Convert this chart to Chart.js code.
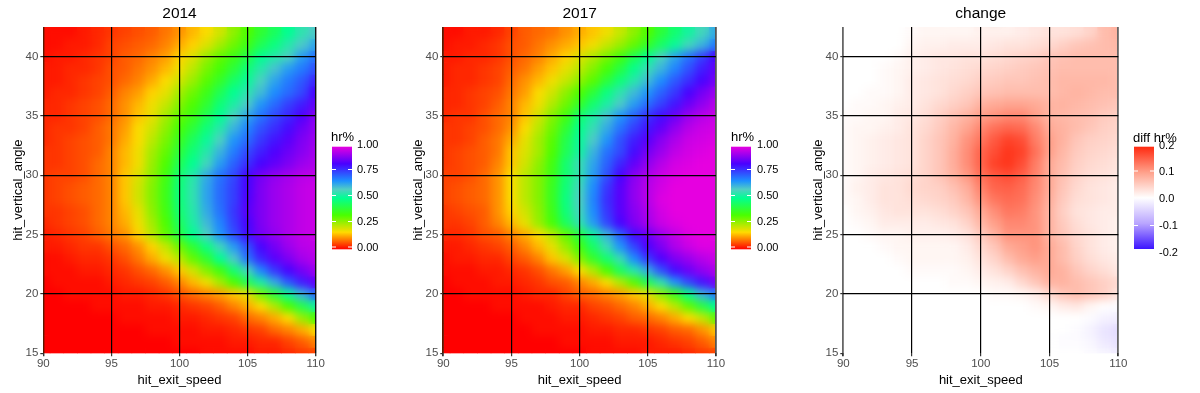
<!DOCTYPE html>
<html><head><meta charset="utf-8">
<script src="https://cdn.jsdelivr.net/npm/chart.js@4"></script>
<style>
html,body{margin:0;padding:0;background:#fff;width:1200px;height:393px;overflow:hidden}
.p{position:absolute;top:0;width:400px;height:393px}
</style></head><body>
<div class="p" style="left:0"><canvas id="c0"></canvas></div>
<div class="p" style="left:400px"><canvas id="c1"></canvas></div>
<div class="p" style="left:800px"><canvas id="c2"></canvas></div>
<script>
const speeds=[90,91,92,93,94,95,96,97,98,99,100,101,102,103,104,105,106,107,108,109,110];
const angles=[42,41,40,39,38,37,36,35,34,33,32,31,30,29,28,27,26,25,24,23,22,21,20,19,18,17,16,15];
const xTicks=[90,95,100,105,110];
const yTicks=[15,20,25,30,35,40];
const hrTicks=["1.00","0.75","0.50","0.25","0.00"];
const diffTicks=["0.2","0.1","0.0","-0.1","-0.2"];
// hr% x100, one row per angle (top row = 42)
const hr2014=[
[1,1,1,2,3,4,5,6,7,9,11,14,17,21,27,33,39,44,50,55,59],
[1,1,2,2,3,5,6,7,8,10,13,16,20,25,30,36,43,48,54,59,64],
[1,2,2,3,4,5,7,8,10,12,16,20,26,31,36,42,50,54,58,65,70],
[2,2,3,3,4,6,7,9,11,14,18,23,29,34,40,47,54,60,65,69,74],
[2,2,3,4,5,6,8,10,13,17,21,26,32,38,45,51,58,64,69,73,79],
[2,3,3,4,5,7,10,12,16,19,25,30,36,43,50,55,61,67,71,75,83],
[3,3,4,5,6,8,11,14,18,22,28,33,39,47,53,59,66,71,76,80,86],
[3,3,4,5,6,8,11,15,19,25,31,36,43,50,58,64,70,75,79,84,90],
[3,4,4,5,7,9,12,17,21,27,34,40,47,54,62,68,74,78,82,87,91],
[3,4,5,6,7,9,13,17,23,29,37,44,51,58,66,71,77,81,85,89,92],
[4,4,5,6,7,10,14,18,25,31,40,47,54,62,69,75,80,84,87,90,93],
[4,4,5,6,8,10,14,18,26,33,43,50,57,65,72,78,83,86,89,92,94],
[4,5,5,6,8,10,15,20,27,35,46,54,63,70,75,83,88,91,93,95,96],
[4,5,6,7,8,10,15,21,28,36,47,55,64,71,76,83,89,92,94,96,97],
[4,5,6,7,8,10,15,21,28,36,47,55,64,71,76,84,89,92,94,96,97],
[4,4,5,6,8,10,14,19,27,35,46,54,63,70,77,85,89,92,94,96,97],
[3,4,5,6,8,10,13,18,25,33,44,53,61,68,76,83,89,92,94,96,97],
[2,3,4,5,7,9,11,16,23,31,41,50,58,66,74,82,88,91,94,96,97],
[2,2,3,4,4,6,8,11,16,22,30,39,48,57,65,74,83,88,92,95,96],
[1,1,2,3,3,4,6,9,13,18,23,31,39,50,59,70,79,85,89,93,95],
[1,1,1,2,2,3,4,6,8,11,15,21,28,35,46,57,68,77,83,88,92],
[0,1,1,1,1,2,3,4,5,7,10,14,18,25,33,43,53,63,73,80,86],
[0,0,1,1,1,1,2,2,3,4,6,8,10,12,15,19,29,40,51,62,71],
[0,0,0,0,1,1,1,1,2,2,3,4,5,7,10,13,17,24,33,42,52],
[0,0,0,0,0,0,1,1,1,1,2,2,3,4,5,8,10,13,17,26,33],
[0,0,0,0,0,0,0,0,1,1,1,1,2,2,3,4,5,8,10,13,17],
[0,0,0,0,0,0,0,0,0,0,1,1,1,1,2,2,3,3,5,7,10],
[0,0,0,0,0,0,0,0,0,0,0,0,1,1,1,1,2,2,3,4,5]];
const hr2017=[
[1,1,2,2,3,5,7,8,9,11,13,15,18,22,27,33,40,46,52,57,63],
[1,2,2,3,4,6,7,9,11,13,15,18,22,26,31,38,45,51,57,62,69],
[2,2,3,3,4,6,8,10,13,16,20,24,29,35,43,50,58,64,70,76,83],
[2,3,3,4,5,7,9,12,15,19,23,28,34,41,49,56,62,68,74,80,86],
[2,3,3,4,5,8,11,14,18,22,27,32,40,47,54,61,67,73,78,83,88],
[3,3,4,5,6,9,12,17,21,27,33,40,48,55,61,66,72,77,83,88,92],
[3,3,4,5,7,10,14,18,24,30,38,46,53,59,65,71,76,81,87,91,95],
[3,4,4,6,8,10,15,21,28,35,46,53,60,66,72,78,82,87,92,95,97],
[4,4,5,6,8,11,17,23,30,39,49,56,63,70,76,81,86,91,95,97,98],
[4,4,5,7,9,13,19,25,32,42,51,59,66,74,80,85,90,94,97,98,99],
[4,5,6,7,9,15,20,25,33,43,52,62,70,75,82,88,92,96,98,99,100],
[4,5,6,7,10,15,21,27,35,46,56,64,72,79,86,91,95,98,99,100,100],
[5,5,6,8,11,17,23,28,36,46,55,65,74,83,90,94,97,99,100,100,100],
[5,6,7,8,11,17,23,28,37,47,57,67,77,85,91,95,98,100,100,100,100],
[5,6,7,8,11,17,23,28,37,48,58,68,78,85,91,95,99,100,100,100,100],
[4,5,6,7,11,16,21,27,36,47,57,67,77,85,90,94,98,100,100,100,100],
[4,4,5,7,10,14,19,26,34,44,55,65,75,83,89,93,97,99,100,100,100],
[3,3,4,6,7,10,13,17,23,31,41,52,62,72,82,87,92,96,99,100,100],
[2,2,3,4,5,7,10,14,19,26,35,45,56,66,75,84,89,94,97,99,99],
[1,2,2,3,3,5,7,10,15,20,28,38,46,56,67,77,84,89,92,95,97],
[1,1,1,2,2,3,4,6,9,12,17,24,33,44,54,63,74,82,87,91,94],
[0,1,1,1,2,2,3,4,6,7,10,13,17,24,32,43,55,66,75,81,88],
[0,0,1,1,1,1,2,3,3,5,7,8,10,12,15,19,27,36,49,62,69],
[0,0,0,0,1,1,1,1,2,3,3,5,6,8,10,13,17,23,31,41,50],
[0,0,0,0,0,0,1,1,1,2,2,3,4,5,7,8,10,13,17,22,31],
[0,0,0,0,0,0,0,1,1,1,1,2,2,3,3,4,5,7,8,11,15],
[0,0,0,0,0,0,0,0,0,1,1,1,1,2,2,2,3,4,5,7,10],
[0,0,0,0,0,0,0,0,0,0,0,1,1,1,1,2,2,2,3,4,5]];
// change in hr% x100
const hrChange=[
[0,0,0,0,0,.5,1,1,1,1,1.5,1.5,1.5,2,2.5,3,3,3.5,4.5,7,8],
[0,0,0,0,0,1,1.5,1.5,2,2,2,2.5,3,3,3.5,4,5,6,6.5,7,7.5],
[0,0,0,0,.5,1.5,2,2.5,2.5,3,3,3.5,4,4.5,5,6,6.5,7,7,7,7],
[0,0,0,.5,1,1.5,2,2.5,3,3.5,4,4.5,5,5.5,6,6.5,7,7,7,7,7],
[0,0,0,.5,1,2,2.5,3,3.5,4,5,5.5,6,6,6.5,7,7.5,7.5,7.5,7.5,7],
[0,0,.5,.5,1,2,2.5,3,4,5,6,6.5,7,7,7,7,7.5,8,7.5,7,7],
[0,.5,.5,1,1.5,2,3,4,5,6,8,9,9.5,9.5,9,8,8,7.5,7,6.5,6],
[.5,.5,1,1,2,2.5,3.5,5,6.5,8,10,11,12,12,10,8,7.5,7,6.5,5.5,5],
[.5,1,1,1.5,2,3,4,5.5,7.5,9.5,12,14,15,14.5,12,9,8,7,6,5,4.5],
[.5,1,1.5,2,2.5,3,4.5,6,8,11,13.5,16,18,17,13,10,8,6,5,4.5,4],
[.5,1,1.5,2,2.5,3,4.5,6,8.5,11.5,15,17,19,18,14,10,7.5,5.5,4.5,4,3.5],
[.5,1,1.5,2,2.5,3,4.5,6,8.5,11.5,15,18,19,17,13,9,7,5,4,3.5,3],
[.5,1,2,2.5,3,3.5,4.5,6,8,10.5,14,16,17,15.5,12.5,9,6.5,4.5,3.5,3,2.5],
[.5,1.5,2,3,3,4,4.5,5,6.5,8.5,12.5,15,15.5,14.5,12,9,6,4,3,2.5,2],
[.5,1,2,3,3,3.5,4,4.5,5.5,7.5,11,13.5,14.5,14,11.5,8.5,5.5,3.5,3,2.5,2],
[0,1,1.5,2.5,3,3,3,3.5,4.5,6,9,11.5,13.5,13,11,8,5,3,2.5,2,2],
[0,.5,1,2,2,2,2,2.5,3,4.5,7.5,10,12,12,11,8,5.5,3.5,2.5,2,1.5],
[0,0,.5,1,1,1.5,1.5,1.5,2,3,5.5,8,11,11,11,8,6,4,3,2,1.5],
[0,0,0,.5,1,1,1,1,1,2,4,6,9,10,11,9,7,4.5,3,2,1.5],
[0,0,0,0,.5,1,1,1,1,1.5,3,4.5,7,9,10,9,7,5,3.5,2.5,2],
[0,0,0,0,0,.5,.5,.5,.5,1,2,3,4.5,6.5,8,9,8,6,4.5,3.5,2.5],
[0,0,0,0,0,0,0,0,.5,.5,1,1.5,2,4,6,8,8,7,6,5,4],
[0,0,0,0,0,0,0,0,0,0,0,.5,.5,1,2,4,6,7,6,5,3],
[0,0,0,0,0,0,0,0,0,0,0,0,0,0,.5,1,2,2.5,1,0,-.5],
[0,0,0,0,0,0,0,0,0,0,0,0,0,0,0,0,0,0,-.5,-1.5,-2],
[0,0,0,0,0,0,0,0,0,0,0,0,0,0,0,0,0,-.5,-1.5,-3,-4],
[0,0,0,0,0,0,0,0,0,0,0,0,0,0,0,0,-.5,-.5,-1,-2.5,-3.5],
[0,0,0,0,0,0,0,0,0,0,0,0,0,0,0,0,0,0,-.5,-1,-2]];

const rainbowStops=[[0,'#ff0000'],[.1667,'#ffdb00'],[.3333,'#49ff00'],[.5,'#00ff92'],[.585,'#52cdc4'],[.6667,'#1c90ff'],[.8333,'#4900ff'],[1,'#e600e0']];
const diffStops=[[0,'#3c14ff'],[.25,'#b9a5ff'],[.5,'#ffffff'],[.75,'#ffa08a'],[1,'#ff2a10']];
function hex(s){return [1,3,5].map(i=>parseInt(s.substr(i,2),16));}
function ramp(stops,t){
  t=Math.max(0,Math.min(1,t));
  for(let i=1;i<stops.length;i++){
    if(t<=stops[i][0]){
      const a=stops[i-1],b=stops[i],f=(t-a[0])/(b[0]-a[0]),A=hex(a[1]),B=hex(b[1]);
      return 'rgb('+A.map((v,k)=>Math.round(v+(B[k]-v)*f)).join(',')+')';
    }
  }
  return stops[stops.length-1][1];
}
const softenCells={id:'softenCells',afterDatasetsDraw(chart){
  const a=chart.chartArea,c=chart.ctx;
  c.save();c.beginPath();c.rect(a.left,a.top,a.right-a.left,a.bottom-a.top);c.clip();
  c.filter='blur(4px)';c.drawImage(chart.canvas,0,0,chart.width,chart.height);c.restore();
}};
const legendBar={id:'legendBar',afterDraw(chart,args,o){
  const c=chart.ctx;c.save();
  const g=c.createLinearGradient(0,o.y1,0,o.y0);
  o.stops.forEach(s=>g.addColorStop(s[0],s[1]));
  c.fillStyle=g;c.fillRect(o.x,o.y0,20,o.y1-o.y0);
  c.strokeStyle='#fff';c.lineWidth=1;
  o.tickY.forEach(y=>{c.beginPath();c.moveTo(o.x,y+.5);c.lineTo(o.x+4,y+.5);c.moveTo(o.x+16,y+.5);c.lineTo(o.x+20,y+.5);c.stroke();});
  c.fillStyle='#000';c.textBaseline='middle';c.textAlign='left';
  c.font='13px "Liberation Sans"';c.fillText(o.title,o.titleX,o.titleY);
  c.font='11px "Liberation Sans"';
  o.labels.forEach((t,i)=>c.fillText(t,o.labelX,o.labelY[i]));
  c.restore();
}};
function makePanel(id,title,grid,colorOf,edge,right,legend){
  const datasets=angles.map((a,r)=>({
    label:String(a),
    data:speeds.map(s=>({x:s,y:[a-.5,a+.5]})),
    backgroundColor:grid[r].map(colorOf),
    borderWidth:0
  }));
  const tickOpts={color:'#4d4d4d',font:{family:'"Liberation Sans"',size:11.5},z:1,autoSkip:false,maxRotation:0,minRotation:0};
  new Chart(document.getElementById(id),{
    type:'bar',
    data:{datasets},
    plugins:[softenCells,legendBar],
    options:{
      responsive:false,animation:false,events:[],
      layout:{padding:{left:0,right:right,top:0,bottom:0}},
      datasets:{bar:{grouped:false,barPercentage:1,categoryPercentage:1}},
      plugins:{
        legend:{display:false},tooltip:{enabled:false},
        title:{display:true,text:title,fullSize:false,color:'#000',font:{family:'"Liberation Sans"',size:15.5,weight:'normal',lineHeight:1.25},padding:{top:4,bottom:3.5}},
        legendBar:legend
      },
      scales:{
        x:{type:'linear',min:90,max:110,offset:false,
          afterBuildTicks:s=>{s.ticks=xTicks.map(v=>({value:v}));},
          afterFit:s=>{s.height=39.7;},
          grid:{z:1,offset:false,drawTicks:true,tickLength:3,tickColor:'#333',
            color:c=>(c.tick&&edge[c.tick.value])||'#000',
            lineWidth:c=>(c.tick&&edge[c.tick.value])?edge.w:1.2},
          border:{display:false},
          ticks:{...tickOpts,padding:1,stepSize:5},
          title:{display:true,text:'hit_exit_speed',color:'#000',font:{family:'"Liberation Sans"',size:13},padding:{top:0,bottom:5}}},
        y:{type:'linear',min:15,max:42.5,
          afterBuildTicks:s=>{s.ticks=yTicks.map(v=>({value:v}));},
          afterFit:s=>{s.width=43.3;},
          grid:{z:1,drawTicks:true,tickLength:3,tickColor:'#333',
            color:c=>(c.tick&&c.tick.value===15)?'rgba(0,0,0,0)':'#000',lineWidth:1.2},
          border:{display:false},
          ticks:{...tickOpts,padding:2},
          title:{display:true,text:'hit_vertical_angle',color:'#000',font:{family:'"Liberation Sans"',size:13},padding:{top:11,bottom:0}}}
      }
    }
  });
}
document.querySelectorAll('canvas').forEach(c=>{c.width=400;c.height=393;});
const hrColor=v=>ramp(rainbowStops,v/100);
const diffColor=v=>ramp(diffStops,.5+v/40);
makePanel('c0','2014',hr2014,hrColor,{90:'#5a1a00',110:'#111',w:1.4},84.3,
 {x:332,y0:146.7,y1:249.3,stops:rainbowStops,tickY:[169,195,221,246.5],title:'hr%',titleX:331,titleY:137,labels:hrTicks,labelX:357,labelY:[145,170,196,222,248]});
makePanel('c1','2017',hr2017,hrColor,{90:'#5a1a00',110:'#555',w:1.8},84,
 {x:331,y0:146.7,y1:249.3,stops:rainbowStops,tickY:[169,195,221,246.5],title:'hr%',titleX:331,titleY:137,labels:hrTicks,labelX:357,labelY:[145,170,196,222,248]});
makePanel('c2','change',hrChange,diffColor,{90:'#666',110:'#666',w:1.8},81.7,
 {x:334,y0:146.7,y1:249,stops:diffStops,tickY:[170.5,225],title:'diff hr%',titleX:333,titleY:138,labels:diffTicks,labelX:359,labelY:[146,172,199,226,253]});
</script>
</body></html>
